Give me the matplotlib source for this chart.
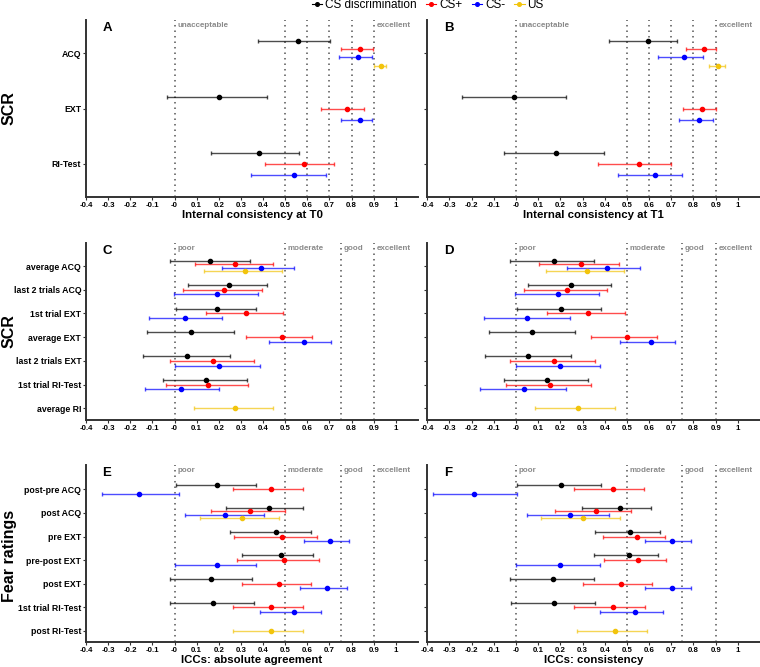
import numpy as np
import matplotlib
matplotlib.use("Agg")
import matplotlib.pyplot as plt
import matplotlib.transforms as mtransforms
from matplotlib.lines import Line2D

plt.rcParams['font.family'] = ['Liberation Sans', 'DejaVu Sans']

# y categories (top to bottom)
scr_cats_t = ["ACQ", "EXT", "RI-Test"]
scr_cats_icc = ["average ACQ", "last 2 trials ACQ", "1st trial EXT", "average EXT",
                "last 2 trials EXT", "1st trial RI-Test", "average RI"]
fear_cats = ["post-pre ACQ", "post ACQ", "pre EXT", "pre-post EXT", "post EXT",
             "1st trial RI-Test", "post RI-Test"]

series_names = ["CS discrimination", "CS+", "CS-", "US"]
series_colors = ["black", "#ff0000", "#0000ff", "#f2c40c"]

# (estimate, lower CI, upper CI); None = not available
# A: internal consistency T0
A_disc = [(0.559, 0.376, 0.702), (0.201, -0.034, 0.417), (0.381, 0.165, 0.564)]
A_csp = [(0.838, 0.753, 0.897), (0.777, 0.661, 0.858), (0.586, 0.408, 0.721)]
A_csm = [(0.831, 0.741, 0.892), (0.838, 0.750, 0.894), (0.538, 0.346, 0.685)]
A_us = [(0.935, 0.900, 0.957), None, None]
# B: internal consistency T1
B_disc = [(0.595, 0.418, 0.728), (-0.011, -0.245, 0.224), (0.180, -0.054, 0.398)]
B_csp = [(0.848, 0.765, 0.902), (0.839, 0.752, 0.900), (0.556, 0.370, 0.698)]
B_csm = [(0.758, 0.638, 0.845), (0.825, 0.735, 0.886), (0.627, 0.462, 0.750)]
B_us = [(0.911, 0.868, 0.944), None, None]
# C: SCR ICC absolute agreement
C_disc = [(0.162, -0.019, 0.339), (0.244, 0.061, 0.417), (0.192, 0.007, 0.366),
          (0.076, -0.123, 0.270), (0.058, -0.141, 0.252), (0.141, -0.052, 0.327), None]
C_csp = [(0.274, 0.091, 0.444), (0.223, 0.039, 0.397), (0.325, 0.142, 0.489),
         (0.486, 0.322, 0.622), (0.175, -0.019, 0.357), (0.150, -0.039, 0.330), None]
C_csm = [(0.390, 0.213, 0.541), (0.192, -0.001, 0.375), (0.046, -0.115, 0.214),
         (0.583, 0.426, 0.705), (0.201, 0.003, 0.384), (0.031, -0.133, 0.202), None]
C_us = [(0.319, 0.135, 0.484), None, None, None, None, None, (0.273, 0.088, 0.444)]
# D: SCR ICC consistency
D_disc = [(0.170, -0.029, 0.353), (0.250, 0.056, 0.426), (0.203, 0.006, 0.383),
          (0.072, -0.123, 0.265), (0.056, -0.141, 0.248), (0.140, -0.056, 0.326), None]
D_csp = [(0.295, 0.105, 0.466), (0.232, 0.038, 0.409), (0.326, 0.138, 0.490),
         (0.501, 0.340, 0.635), (0.173, -0.026, 0.356), (0.153, -0.044, 0.340), None]
D_csm = [(0.408, 0.230, 0.558), (0.189, -0.006, 0.373), (0.051, -0.146, 0.245),
         (0.609, 0.471, 0.719), (0.197, 0.000, 0.377), (0.035, -0.164, 0.227), None]
D_us = [(0.322, 0.134, 0.489), None, None, None, None, None, (0.278, 0.087, 0.448)]
# E: fear ratings ICC absolute agreement
E_disc = [(0.192, 0.007, 0.366), (0.426, 0.234, 0.582), (0.460, 0.250, 0.618),
          (0.481, 0.306, 0.624), (0.166, -0.021, 0.348), (0.172, -0.019, 0.357), None]
E_csp = [(0.438, 0.262, 0.582), (0.343, 0.165, 0.501), (0.486, 0.267, 0.645),
         (0.493, 0.283, 0.651), (0.474, 0.303, 0.615), (0.438, 0.262, 0.582), None]
E_csm = [(-0.159, -0.328, 0.021), (0.229, 0.046, 0.402), (0.703, 0.587, 0.790),
         (0.192, 0.004, 0.366), (0.687, 0.567, 0.781), (0.538, 0.384, 0.663), None]
E_us = [None, (0.304, 0.114, 0.472), None, None, None, None, (0.435, 0.262, 0.579)]
# F: fear ratings ICC consistency
F_disc = [(0.203, 0.006, 0.385), (0.471, 0.299, 0.609), (0.516, 0.358, 0.647),
          (0.511, 0.350, 0.641), (0.167, -0.029, 0.353), (0.173, -0.023, 0.358), None]
F_csp = [(0.435, 0.260, 0.579), (0.362, 0.177, 0.520), (0.546, 0.392, 0.672),
         (0.552, 0.398, 0.675), (0.472, 0.302, 0.612), (0.435, 0.262, 0.583), None]
F_csm = [(-0.189, -0.373, 0.005), (0.242, 0.048, 0.418), (0.701, 0.583, 0.788),
         (0.198, 0.002, 0.377), (0.701, 0.583, 0.788), (0.535, 0.380, 0.662), None]
F_us = [None, (0.302, 0.114, 0.471), None, None, None, None, (0.447, 0.277, 0.592)]

x_ticks = np.round(np.arange(-0.4, 1.01, 0.1), 1)
ic_lines = [0, 0.5, 0.6, 0.7, 0.8, 0.9]
ic_labels = {0: "unacceptable", 0.9: "excellent"}
icc_lines = [0, 0.5, 0.75, 0.9]
icc_labels = {0: "poor", 0.5: "moderate", 0.75: "good", 0.9: "excellent"}

W, H = 760, 667
fig = plt.figure(figsize=(W / 100, H / 100), dpi=100)
axis_col = "#333333"


def make_ax(left_px, top_px, width_px, height_px=177):
    return fig.add_axes([left_px / W, 1 - (top_px + height_px) / H, width_px / W, height_px / H])


def draw_panel(ax, cats, series, letter, vlines, vlabels, xlabel, pads, show_cats):
    for xv in vlines:
        ax.axvline(xv, color="#555555", lw=1.1, ls=(0, (1, 2.6)), zorder=1)
    trans = mtransforms.blended_transform_factory(ax.transData, ax.transAxes)
    for xv, lab in vlabels.items():
        ax.text(xv + 0.012, 1 - 5.5 / 177, lab, transform=trans, ha="left", va="center",
                fontsize=5.8, fontweight="bold", color="#8a8a8a", zorder=2)
    ax.text(-0.325, 1 - 8 / 177, letter, transform=trans, ha="left", va="center",
            fontsize=9.5, fontweight="bold")
    for i in range(len(cats)):
        present = [k for k in range(len(series)) if series[k][i] is not None]
        m = len(present)
        w = 0.6 / m
        for j, k in enumerate(present):
            est, lo, hi = series[k][i]
            y = i + (j - (m - 1) / 2) * w
            ax.errorbar(est, y, xerr=[[est - lo], [hi - est]], fmt="none",
                        ecolor=series_colors[k], alpha=0.7, elinewidth=1.0,
                        capsize=1.7, capthick=1.0, zorder=3)
            ax.plot(est, y, "o", color=series_colors[k], ms=3.0, zorder=4)
    ax.set_xlim(-0.4, 1.1)
    ax.set_ylim(len(cats) - 1 + pads[1], -pads[0])
    ax.set_xticks(x_ticks)
    ax.set_xticklabels([f"{v:g}" for v in x_ticks], fontsize=5.7, fontweight="bold")
    ax.set_yticks(range(len(cats)))
    if show_cats:
        ax.set_yticklabels(cats, fontsize=6.3, fontweight="bold")
    else:
        ax.set_yticklabels([])
    for s in ["top", "right"]:
        ax.spines[s].set_visible(False)
    for s in ["left", "bottom"]:
        ax.spines[s].set_linewidth(1.4)
        ax.spines[s].set_color(axis_col)
    ax.tick_params(length=2, width=0.8, color=axis_col, pad=1.5)
    if xlabel:
        ax.set_xlabel(xlabel, fontsize=8.2, fontweight="bold", labelpad=1)


axA = make_ax(86, 20, 332)
axB = make_ax(427.3, 20, 332.7)
axC = make_ax(86, 243, 332)
axD = make_ax(427.3, 243, 332.7)
axE = make_ax(86, 465, 332)
axF = make_ax(427.3, 465, 332.7)

draw_panel(axA, scr_cats_t, [A_disc, A_csp, A_csm, A_us], "A", ic_lines, ic_labels,
           "Internal consistency at T0", (0.6, 0.6), True)
draw_panel(axB, scr_cats_t, [B_disc, B_csp, B_csm, B_us], "B", ic_lines, ic_labels,
           "Internal consistency at T1", (0.6, 0.6), False)
draw_panel(axC, scr_cats_icc, [C_disc, C_csp, C_csm, C_us], "C", icc_lines, icc_labels,
           None, (0.97, 0.49), True)
draw_panel(axD, scr_cats_icc, [D_disc, D_csp, D_csm, D_us], "D", icc_lines, icc_labels,
           None, (0.97, 0.49), False)
draw_panel(axE, fear_cats, [E_disc, E_csp, E_csm, E_us], "E", icc_lines, icc_labels,
           "ICCs: absolute agreement", (1.03, 0.47), True)
draw_panel(axF, fear_cats, [F_disc, F_csp, F_csm, F_us], "F", icc_lines, icc_labels,
           "ICCs: consistency", (1.03, 0.47), False)

fig.text(9.5 / W, 1 - 108 / H, "SCR", rotation=90, ha="center", va="center",
         fontsize=11.5, fontweight="bold")
fig.text(9.5 / W, 1 - 331 / H, "SCR", rotation=90, ha="center", va="center",
         fontsize=11.5, fontweight="bold")
fig.text(9.5 / W, 1 - 556 / H, "Fear ratings", rotation=90, ha="center", va="center",
         fontsize=11.5, fontweight="bold")

handles = [Line2D([0], [0], color=c, marker="o", ms=2.6, lw=0.8) for c in series_colors]
fig.legend(handles, series_names, loc="center", bbox_to_anchor=(428 / W, 1 - 5.5 / H),
           ncol=4, frameon=False, fontsize=8.5, handlelength=0.85, handletextpad=0.25,
           columnspacing=0.8, borderpad=0, borderaxespad=0)

fig.savefig("out.png", dpi=100)
